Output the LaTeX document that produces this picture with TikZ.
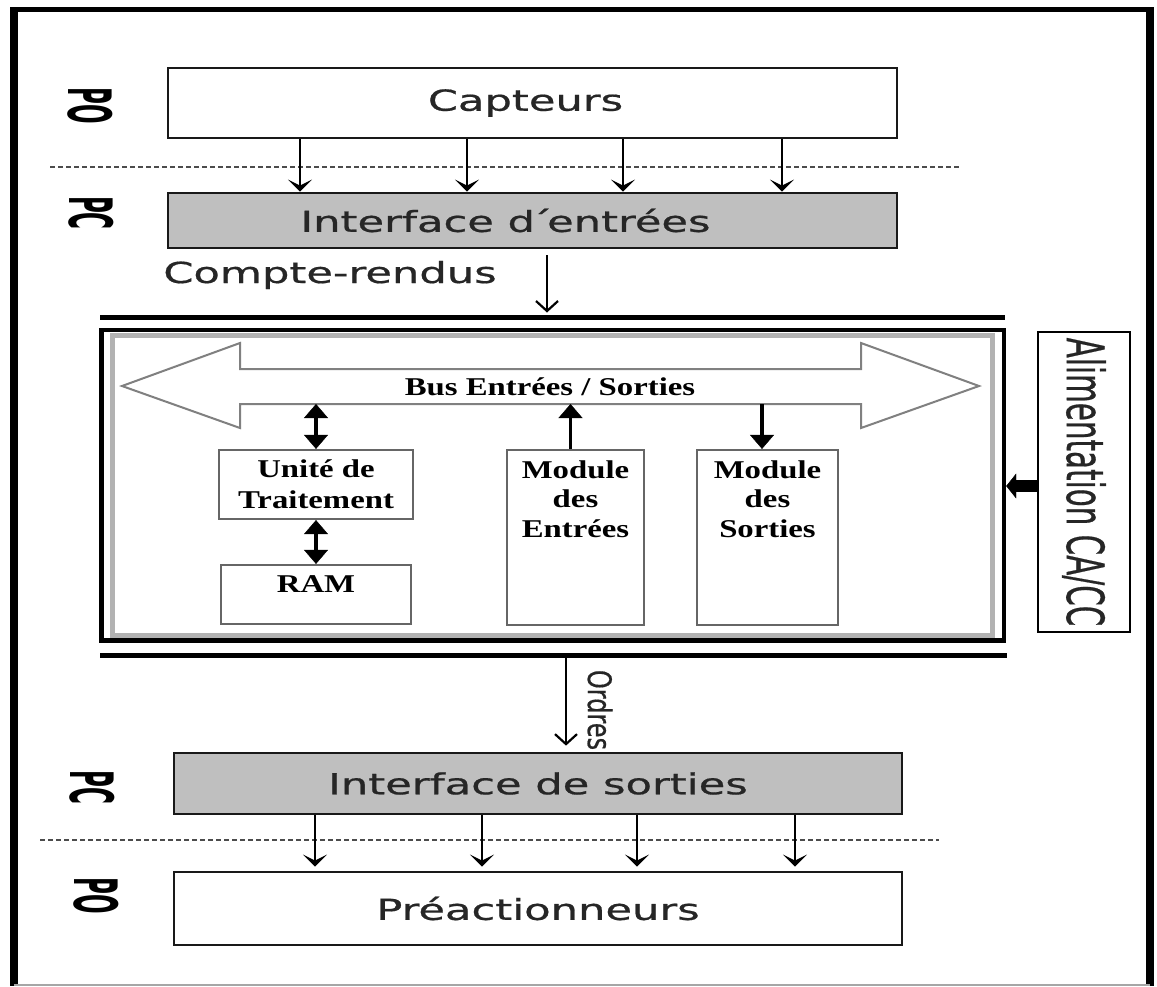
\documentclass[tikz,border=0pt]{standalone}
\usepackage{fontspec}
\usepackage{graphicx}
\setmainfont{DejaVu Sans}
\newfontfamily\sansmed{DejaVu Sans}[FakeBold=0.6]
\newfontfamily\timesbf{Liberation Serif}
\usetikzlibrary{arrows.meta,calc}

% horizontally widened text, and text turned to read downwards with taller letters
\newcommand\widen[2]{\scalebox{#1}[1]{#2}}
\newcommand\uprot[2]{\rotatebox{-90}{\scalebox{1}[#1]{#2}}}

\tikzset{
  sanstxt/.style={font=\sansmed\fontsize{14.5}{17}\selectfont, text=black!85},
  field/.style={draw=black!90, line width=1.4pt, inner sep=0pt, sanstxt},
  iface/.style={field, fill=black!25},
  unit/.style={draw=black!60, line width=1.1pt, inner sep=0pt, fill=white,
    font=\timesbf\bfseries\fontsize{12.8}{15.5}\selectfont, align=center},
  modtxt/.style={inner sep=0pt, align=center,
    font=\timesbf\bfseries\fontsize{12.8}{14.75}\selectfont},
  tag/.style={font=\bfseries\fontsize{11.5}{13}\selectfont, inner sep=0pt},
  partline/.style={black!70, line width=0.7pt, dash pattern=on 2.5pt off 1.5pt},
  feed/.style={line width=1pt, -{Stealth[length=6pt,width=12pt,inset=3pt]}},
  barb/.style={line width=1.1pt, -{Straight Barb[length=5pt,width=11pt]}},
  bus link/.style={line width=1.6pt, -{Triangle[length=7pt,width=12pt,line width=0.2pt]}},
  bus dbl/.style={line width=1.6pt,
    {Triangle[length=7pt,width=12pt,line width=0.2pt]}-{Triangle[length=7pt,width=12pt,line width=0.2pt]}},
  bar/.style={line width=2.5pt},
}

\begin{document}
\begin{tikzpicture}[x=0.5pt, y=-0.5pt]
\useasboundingbox (0,0) rectangle (1157,986);
\fill[white] (0,0) rectangle (1157,986);

% outer frame
\draw[line width=2.5pt] (12,9.5) -- (1152,9.5);
\draw[line width=4pt] (14,7) -- (14,986);
\draw[line width=4pt] (1149.5,7) -- (1149.5,986);
\draw[black!35, line width=0.8pt] (14,985) -- (1149.5,985);

% boundaries between operative part and control part
\draw[partline] (50,167) -- (962,167);
\draw[partline] (40,840) -- (939,840);

% side tags
\node[tag] (po1) at (90,106) {\uprot{2.6}{PO}};
\node[tag] (pc1) at (91,213) {\uprot{2.6}{PC}};
\node[tag] (pc2) at (92,787) {\uprot{2.6}{PC}};
\node[tag] (po2) at (96,896) {\uprot{2.6}{PO}};

% sensors and input interface
\node[field, minimum width=364.5pt, minimum height=35pt] (capt) at (532.5,103)
  {\widen{1.49}{Capteurs}\hspace*{7pt}};
\node[iface, minimum width=364.5pt, minimum height=27.5pt] (entrees) at (532.5,220.5)
  {\widen{1.49}{Interface d\kern-0.1em´\kern-0.12em entrées}\hspace*{27pt}};
\foreach \ax in {300,467,623,782}{
  \coordinate (fa) at (\ax,0);
  \draw[feed] (capt.south -| fa) -- (entrees.north -| fa);
}

\node[sanstxt, anchor=base, inner sep=0pt] (cr) at (330,283) {\widen{1.49}{Compte-rendus}};

% bars framing the controller
\coordinate (tbL) at (100,317.5);
\coordinate (tbR) at (1005,317.5);
\draw[bar] (tbL) -- (tbR);
\coordinate (bbL) at (100,655);
\coordinate (bbR) at (1007,655);
\draw[bar] (bbL) -- (bbR);

\coordinate (crx) at (547,0);
\draw[barb] ($(entrees.south -| crx)+(0,6)$) -- ($(tbL -| crx)+(0,-5)$);

% controller
\node[draw, line width=2.2pt, minimum width=451.25pt, minimum height=155.25pt, inner sep=0pt]
  (plc) at (552.75,485.25) {};
\draw[black!30, line width=2.5pt] (112,335.5) rectangle (992,635);

% input/output bus
\draw[draw=black!50, line width=1pt, fill=white]
  (122,386) -- (240,343) -- (240,369) -- (861,369) -- (861,343) -- (979,386)
  -- (861,428) -- (861,404) -- (240,404) -- (240,428) -- cycle;
\node[modtxt, anchor=base] (bus) at (550,395) {\widen{1.28}{Bus Entrées / Sorties}};
\coordinate (busbot) at (0,404);

% processing unit, memory and modules
\node[unit, minimum width=97pt, minimum height=34.5pt] (ut) at (316,484.5)
  {\widen{1.28}{Unité de}\\\widen{1.28}{Traitement}};
\node[unit, minimum width=95pt, minimum height=29.5pt, text depth=10pt] (ram) at (316,594.5)
  {\widen{1.28}{RAM}};
\node[unit, minimum width=68.5pt, minimum height=87.5pt] (modin) at (575.5,537.5) {};
\node[unit, minimum width=70.5pt, minimum height=87.5pt] (modout) at (767.5,537.5) {};
\node[modtxt, anchor=north] (modin-t) at ([yshift=-5.5pt]modin.north)
  {\widen{1.28}{Module}\\\widen{1.28}{des}\\\widen{1.28}{Entrées}};
\node[modtxt, anchor=north] (modout-t) at ([yshift=-5.5pt]modout.north)
  {\widen{1.28}{Module}\\\widen{1.28}{des}\\\widen{1.28}{Sorties}};

\draw[bus dbl] (ut.north) -- (ut.north |- busbot);
\draw[bus dbl] (ut.south) -- (ram.north);
\coordinate (inx) at ([xshift=-2.5pt]modin.north);
\draw[bus link] (inx) -- (inx |- busbot);
\coordinate (outx) at ([xshift=-2.75pt]modout.north);
\draw[bus link] (outx |- busbot) -- (outx);

% power supply
\node[draw, line width=1.2pt, minimum width=46pt, minimum height=150pt, inner sep=0pt,
  font=\sansmed\fontsize{14.7}{17}\selectfont, text=black!85] (alim) at (1084,482)
  {\uprot{1.75}{Alimentation CA/CC}};
\coordinate (feedy) at (0,486);
\draw[line width=6pt, -{Triangle[length=5pt,width=12.5pt,line width=0.2pt]}]
  (alim.west |- feedy) -- (plc.east |- feedy);

% output interface and pre-actuators
\node[iface, minimum width=364pt, minimum height=30.5pt] (sorties) at (538,783.5)
  {\widen{1.49}{Interface de sorties}};
\node[field, minimum width=364pt, minimum height=36.5pt] (preact) at (538,908.5)
  {\widen{1.49}{Préactionneurs}};

\coordinate (ordx) at (566,0);
\draw[barb] ($(bbL -| ordx)+(0,3)$) -- ($(sorties.north -| ordx)+(0,-6)$);
\node[font=\sansmed\fontsize{12}{14}\selectfont, inner sep=0pt, text=black!85] (ord) at (600,710)
  {\uprot{1.35}{Ordres}};

\foreach \ax in {315,482,637,795}{
  \coordinate (fb) at (\ax,0);
  \draw[feed, line width=1.3pt] (sorties.south -| fb) -- ($(preact.north -| fb)+(0,-4)$);
}
\end{tikzpicture}
\end{document}
